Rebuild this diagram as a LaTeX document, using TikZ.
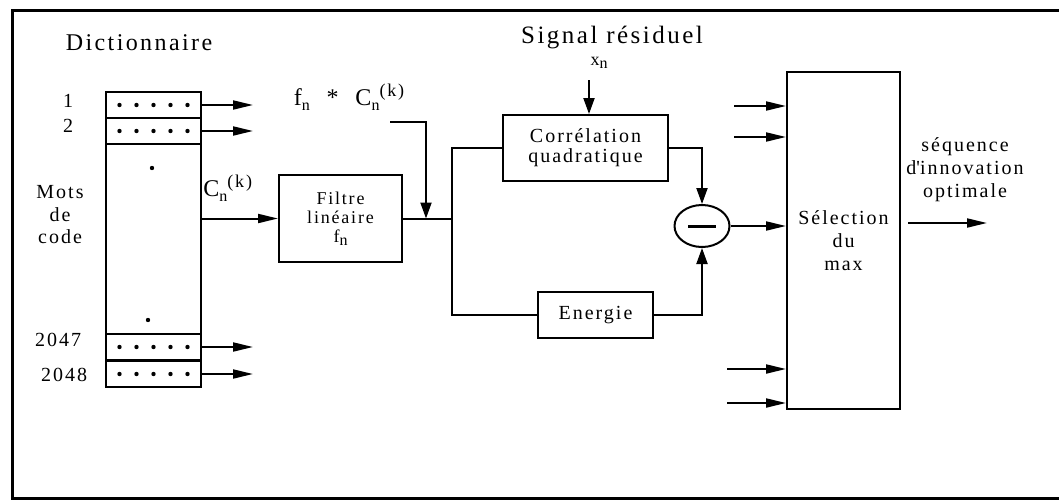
\documentclass[tikz,border=0pt]{standalone}
\usepackage{fontspec}
\setmainfont{Liberation Serif}[LetterSpace=10]
\usepackage{tikz}
\usetikzlibrary{positioning,arrows.meta,calc,shapes.geometric}
\newcommand{\lowidx}[1]{\raisebox{-0.4ex}{\fontsize{8}{8}\selectfont #1}}
\newcommand{\upidx}[1]{\raisebox{0.85ex}{\fontsize{9}{9}\selectfont #1}}
\tikzset{
  blk/.style={draw, line width=1pt, inner sep=0pt, align=center,
              font=\fontsize{10}{10}\selectfont},
  row/.style={draw, line width=1pt, minimum width=47.5pt, minimum height=13pt, inner sep=0pt},
  wire/.style={line width=1pt},
  arr/.style={wire, -{Triangle[length=10pt,width=4.5pt]}},
  arrv/.style={wire, -{Triangle[length=8pt,width=5.5pt]}},
  lbl/.style={inner sep=0pt, align=center, font=\fontsize{10}{11.25}\selectfont},
  ttl/.style={inner sep=0pt, font=\fontsize{12}{12}\selectfont},
  eqn/.style={inner sep=0pt, font=\fontsize{12}{12}\selectfont}
}

\begin{document}
\begin{tikzpicture}[x=0.5pt,y=-0.5pt]
\useasboundingbox (0,0) rectangle (1059,503);
\draw[line width=1.5pt] (1070,10) -- (12,10) -- (12,498) -- (1070,498);
\node[ttl] (dicttitle) at (139,43) {Dictionnaire};
\node[draw, line width=1pt, minimum width=47.5pt, minimum height=147.5pt, inner sep=0pt] (dict) at (153.5,239.5) {};
\node[row] (row1) at (153.5,105) {};
\node[row] (row2) at (153.5,131) {};
\node[row] (row2047) at (153.5,347) {};
\node[row] (row2048) at (153.5,374) {};
\foreach \r in {row1,row2,row2047,row2048}{
  \foreach \d in {-34,-17,0,17,34} \fill ($(\r)+(\d,0)$) circle[radius=1.1pt];
  \coordinate (\r-out) at ($(\r.east)+(51,0)$);
  \draw[arr] (\r.east) -- (\r-out);
}
\fill (152,168) circle[radius=1.1pt];
\fill (148,320) circle[radius=1.1pt];
\node[lbl] (n1) at (68,101) {1};
\node[lbl] (n2) at (68,126) {2};
\node[lbl] (n2047) at (58,340) {2047};
\node[lbl] (n2048) at (64,375) {2048};
\node[lbl] (mots) at (60,215) {Mots\\de\\code};
\node[eqn, anchor=west] (ck) at (203,188) {C\lowidx{n}\upidx{(k)}};
\node[blk, minimum width=61.5pt, minimum height=43.5pt, font=\fontsize{9}{9.5}\selectfont] (filt) at (340.5,218.5) {Filtre\\linéaire\\f\lowidx{n}};
\draw[arr] (dict.east |- filt.west) -- (filt.west);
\node[eqn] (fck) at (349,97) {f\lowidx{n}\ \ *\ \ C\lowidx{n}\upidx{(k)}};
\coordinate (split) at (452,218.5);
\coordinate (mix) at (426,218.5);
\coordinate (fcstart) at (390,122);
\draw[wire] (filt.east) -- (split);
\draw[arrv] (fcstart) -| (mix);
\node[blk, minimum width=82.5pt, minimum height=33pt] (corr) at (585.5,148) {Corrélation\\quadratique};
\node[blk, minimum width=57.5pt, minimum height=23pt] (energ) at (595.5,315) {Energie};
\draw[wire] (split) |- (corr.west);
\draw[wire] (split) |- (energ.west);
\node[ttl, font=\fontsize{12.5}{12.5}\selectfont] (sig) at (612,38) {Signal résiduel};
\node[lbl, font=\fontsize{9}{9}\selectfont] (xn) at (599,63) {x\lowidx{n}};
\coordinate (xin) at (589,80);
\draw[arrv] (xin) -- (xin |- corr.north);
\node[draw, ellipse, line width=1pt, minimum width=27.5pt, minimum height=21pt, inner sep=0pt] (diff) at (702,226) {\rule{14pt}{1.5pt}};
\draw[arrv] (corr.east) -| (diff.north);
\draw[arrv] (energ.east) -| (diff.south);
\node[blk, minimum width=56.5pt, minimum height=168.5pt, font=\fontsize{10}{11.5}\selectfont] (sel) at (843.5,240.5) {Sélection\\du\\max};
\draw[arr] (diff.east) -- (diff.east -| sel.west);
\coordinate (in1) at (734,106);
\coordinate (in2) at (734,137);
\coordinate (in3) at (727,369);
\coordinate (in4) at (727,403);
\foreach \c in {in1,in2,in3,in4} \draw[arr] (\c) -- (\c -| sel.west);
\coordinate (outa) at (908,223);
\coordinate (outb) at (987,223);
\draw[arr] (outa) -- (outb);
\node[lbl, font=\fontsize{10}{11.5}\selectfont] (seq) at (965,170) {séquence\\d\textquotesingle innovation\\optimale};
\end{tikzpicture}
\end{document}
